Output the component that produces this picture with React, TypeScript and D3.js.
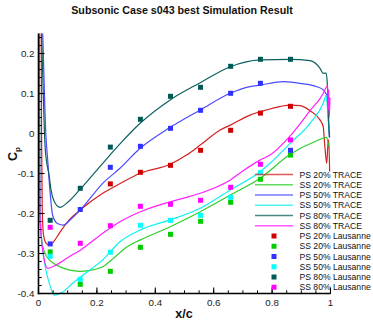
import React from "react";
import * as d3 from "d3";

type Pt = [number, number];

const titleText = "Subsonic Case s043 best Simulation Result";
const xTicks = [0, 0.2, 0.4, 0.6, 0.8, 1];
const xTickLabels = ["0", "0.2", "0.4", "0.6", "0.8", "1"];
const yTicks = [-0.4, -0.3, -0.2, -0.1, 0, 0.1, 0.2];
const yTickLabels = ["-0.4", "-0.3", "-0.2", "-0.1", "0", "0.1", "0.2"];

// TRACE simulation curves [x/c, Cp]
const ps20Trace: Pt[] = [
  [0.009, 0.3], [0.0105, 0.0], [0.013, -0.2], [0.018, -0.258], [0.028, -0.276], [0.037, -0.279],
  [0.05, -0.272], [0.071, -0.2495], [0.105, -0.216], [0.1445, -0.19], [0.22, -0.1495],
  [0.28, -0.125], [0.348, -0.0995], [0.451, -0.077], [0.507, -0.054], [0.554, -0.029],
  [0.622, 0.009], [0.657, 0.021], [0.724, 0.046], [0.76, 0.0545], [0.83, 0.068],
  [0.862, 0.071], [0.896, 0.0695], [0.93, 0.057], [0.964, 0.034], [0.975, 0.017],
  [0.981, -0.035], [0.987, -0.0745], [0.991, -0.03], [0.994, -0.015], [0.997, -0.095],
];
const ss20Trace: Pt[] = [
  [0.002, 0.3], [0.005, -0.15], [0.01, -0.26], [0.02, -0.295], [0.04, -0.318],
  [0.06, -0.328], [0.083, -0.336], [0.117, -0.343], [0.1445, -0.3445], [0.186, -0.341],
  [0.22, -0.333], [0.26, -0.31], [0.2997, -0.285], [0.349, -0.266], [0.451, -0.233],
  [0.554, -0.1955], [0.657, -0.154], [0.759, -0.112], [0.862, -0.052], [0.953, -0.018],
  [0.981, -0.0105], [0.987, -0.0095], [0.992, -0.025], [0.996, -0.033],
];
const ps50Trace: Pt[] = [
  [0.012, 0.3], [0.0144, 0.25], [0.025, 0.0], [0.0315, -0.066], [0.04, -0.15],
  [0.0486, -0.205], [0.065, -0.225], [0.085, -0.229], [0.11, -0.215], [0.1445, -0.19],
  [0.22, -0.1245], [0.279, -0.087], [0.348, -0.037], [0.451, 0.0155], [0.554, 0.059],
  [0.657, 0.1005], [0.724, 0.117], [0.759, 0.121], [0.838, 0.1295], [0.896, 0.1255],
  [0.953, 0.117], [0.975, 0.109], [0.989, 0.092], [0.993, 0.03], [0.996, -0.01],
];
const ss50Trace: Pt[] = [
  [0.002, 0.3], [0.005, -0.2], [0.0144, -0.291], [0.025, -0.34], [0.037, -0.374],
  [0.054, -0.404], [0.083, -0.396], [0.117, -0.3745], [0.1445, -0.358], [0.22, -0.316],
  [0.279, -0.2705], [0.349, -0.241], [0.451, -0.216], [0.554, -0.187], [0.657, -0.141],
  [0.759, -0.0955], [0.793, -0.0745], [0.862, -0.0245], [0.93, 0.0255], [0.975, 0.0755],
  [0.985, 0.095], [0.99, 0.06], [0.994, 0.02], [0.997, 0.0],
];
const ps80Trace: Pt[] = [
  [0.008, 0.3], [0.0103, 0.25], [0.0233, -0.041], [0.037, -0.108], [0.0428, -0.141],
  [0.054, -0.17], [0.0736, -0.1845], [0.1, -0.172], [0.1445, -0.138], [0.22, -0.0745],
  [0.279, -0.026], [0.348, 0.0255], [0.451, 0.084], [0.554, 0.127], [0.657, 0.167],
  [0.759, 0.184], [0.862, 0.1855], [0.93, 0.182], [0.964, 0.163], [0.975, 0.1505],
  [0.985, 0.151], [0.989, 0.1255], [0.995, 0.009], [0.997, -0.01],
];
const ss80Trace: Pt[] = [
  [0.002, 0.3], [0.005, -0.208], [0.0144, -0.291], [0.0315, -0.337], [0.06, -0.329],
  [0.105, -0.308], [0.1445, -0.291], [0.22, -0.2495], [0.279, -0.2205], [0.349, -0.1955],
  [0.451, -0.1705], [0.554, -0.1495], [0.657, -0.116], [0.701, -0.093], [0.76, -0.066],
  [0.793, -0.054], [0.862, -0.006], [0.93, 0.057], [0.975, 0.1], [0.985, 0.115],
  [0.99, 0.12], [0.992, 0.06], [0.994, 0.11], [0.996, 0.04], [0.998, 0.09],
];

// Lausanne experiment
const lausanneX = [0.04, 0.143, 0.246, 0.349, 0.452, 0.555, 0.658, 0.76, 0.863];
const ps20Laus = [null, null, -0.126, -0.097, -0.0795, -0.042, 0.008, 0.051, 0.068];
const ss20Laus = [-0.296, -0.377, -0.3445, -0.2845, -0.252, -0.2195, -0.172, -0.1145, -0.054];
const ps50Laus = [-0.276, -0.19, -0.0845, -0.032, 0.013, 0.058, 0.1005, 0.1255, -0.042];
const ss50Laus = [-0.307, -0.3645, -0.297, -0.2295, -0.217, -0.2045, -0.1595, -0.098, null];
const ps80Laus = [-0.217, -0.137, -0.034, 0.0355, 0.093, 0.1155, 0.168, 0.1855, 0.1855];
const ss80Laus = [-0.2345, -0.2745, -0.2305, -0.182, -0.177, -0.167, -0.1345, -0.077, -0.016];

const traceNames = ["PS 20% TRACE", "SS 20% TRACE", "PS 50% TRACE", "SS 50% TRACE", "PS 80% TRACE", "SS 80% TRACE"];
const lausNames = ["PS 20% Lausanne", "SS 20% Lausanne", "PS 50% Lausanne", "SS 50% Lausanne", "PS 80% Lausanne", "SS 80% Lausanne"];
const lineColors = ["#d42020", "#2ad02a", "#4a4aff", "#10f0f0", "#0d6060", "#ff20ff"];
const markerColors = ["#d00000", "#00cc00", "#3030ff", "#00ffff", "#005a55", "#ff00ff"];

const traces = [ps20Trace, ss20Trace, ps50Trace, ss50Trace, ps80Trace, ss80Trace];
const lausanne = [ps20Laus, ss20Laus, ps50Laus, ss50Laus, ps80Laus, ss80Laus];

export default function App() {
  const X = d3.scaleLinear().domain([0, 1]).range([38.5, 330.5]);
  const Y = d3.scaleLinear().domain([-0.4, 0.25]).range([293.5, 33.5]);
  const line = d3
    .line<Pt>()
    .x((d) => X(d[0]))
    .y((d) => Y(d[1]))
    .curve(d3.curveMonotoneX);

  const font = "Liberation Sans, Arial, Helvetica, sans-serif";
  const xMinor = d3.range(0, 1.0001, 0.05);
  const yMinor = d3.range(-0.4, 0.2501, 0.02);
  const axisX = X(0);
  const axisY = Y(-0.4);
  const ms = 5;
  const legendY0 = 174.5;
  const legendDy = 10.25;

  return (
    <svg width={373} height={322} style={{ position: "absolute", left: 0, top: 0, background: "#fff" }}>
      <defs>
        <clipPath id="plotclip">
          <rect x={axisX} y={Y(0.25)} width={310} height={265} />
        </clipPath>
      </defs>
      <text x={182} y={13.8} textAnchor="middle" fontFamily={font} fontWeight="bold" fontSize={10.7} fill="#111">
        {titleText}
      </text>

      <g clipPath="url(#plotclip)" fill="none">
        {traces.map((t, i) => (
          <path key={i} d={line(t) || ""} stroke={lineColors[i]} strokeWidth={1.2} />
        ))}
      </g>

      {lausanne.map((vals, i) =>
        vals.map((v, j) =>
          v === null ? null : (
            <rect key={i + "-" + j} x={X(lausanneX[j]) - ms / 2} y={Y(v) - ms / 2} width={ms} height={ms} fill={markerColors[i]} />
          )
        )
      )}

      {/* axes */}
      <line x1={axisX} x2={axisX} y1={Y(0.25)} y2={axisY + 0.8} stroke="#000" strokeWidth={1.6} />
      <line x1={axisX - 0.8} x2={X(1)} y1={axisY} y2={axisY} stroke="#000" strokeWidth={1.6} />
      {yMinor.map((v, i) => (
        <line key={"ym" + i} x1={axisX} x2={axisX + 3.2} y1={Y(v)} y2={Y(v)} stroke="#000" strokeWidth={1} />
      ))}
      {yTicks.map((v, i) => (
        <g key={"yt" + i}>
          <line x1={axisX} x2={axisX + 6} y1={Y(v)} y2={Y(v)} stroke="#000" strokeWidth={1.1} />
          <text x={34.5} y={Y(v)} dy="0.35em" textAnchor="end" fontFamily={font} fontSize={9.8} fill="#222">
            {yTickLabels[i]}
          </text>
        </g>
      ))}
      {xMinor.map((v, i) => (
        <line key={"xm" + i} x1={X(v)} x2={X(v)} y1={axisY} y2={axisY - 3.2} stroke="#000" strokeWidth={1} />
      ))}
      {xTicks.map((v, i) => (
        <g key={"xt" + i}>
          <line x1={X(v)} x2={X(v)} y1={axisY} y2={axisY - 6} stroke="#000" strokeWidth={1.1} />
          <text x={X(v)} y={305.5} textAnchor="middle" fontFamily={font} fontSize={9.8} fill="#222">
            {xTickLabels[i]}
          </text>
        </g>
      ))}

      <text x={184} y={317.5} textAnchor="middle" fontFamily={font} fontWeight="bold" fontSize={12.5} fill="#111">
        x/c
      </text>
      <text transform="translate(17,161) rotate(-90)" fontFamily={font} fontWeight="bold" fontSize={12.5} fill="#111">
        C
        <tspan fontSize={8} dy={2.5}>p</tspan>
      </text>

      {/* legend */}
      {traceNames.map((n, i) => {
        const y = legendY0 + i * legendDy;
        return (
          <g key={"lt" + i}>
            <line x1={255} x2={293} y1={y} y2={y} stroke={lineColors[i]} strokeWidth={1.6} strokeOpacity={0.75} />
            <text x={299.5} y={y} dy="0.35em" fontFamily={font} fontSize={8.6} fill="#111">
              {n}
            </text>
          </g>
        );
      })}
      {lausNames.map((n, i) => {
        const y = legendY0 + (i + 6) * legendDy;
        return (
          <g key={"ll" + i}>
            <rect x={274 - ms / 2} y={y - ms / 2} width={ms} height={ms} fill={markerColors[i]} />
            <text x={299.5} y={y} dy="0.35em" fontFamily={font} fontSize={8.6} fill="#111">
              {n}
            </text>
          </g>
        );
      })}
    </svg>
  );
}
